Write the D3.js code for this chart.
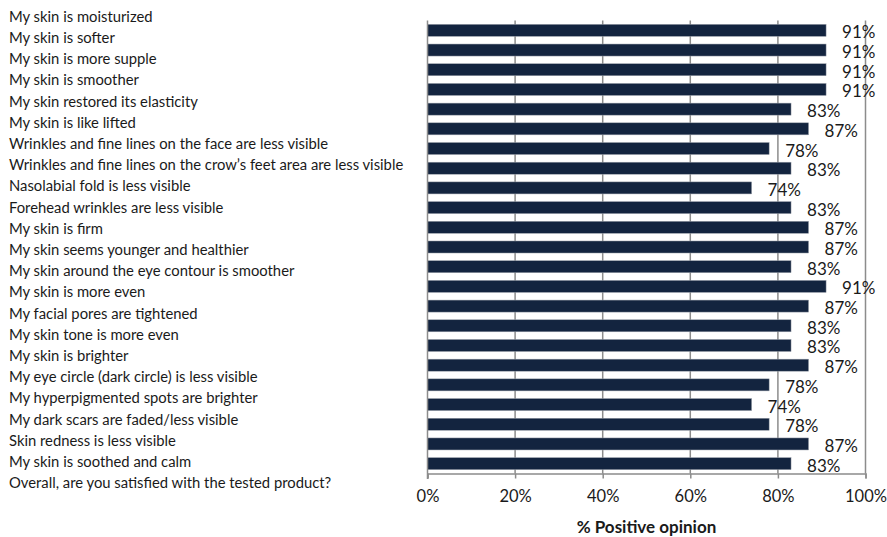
<!DOCTYPE html>
<html><head><meta charset="utf-8">
<script src="https://cdn.jsdelivr.net/npm/d3@7"></script>
<style>body{margin:0;background:#fff;} svg{display:block;} text{font-family:Lato,"Open Sans",sans-serif;fill:#1a1a1a;}</style>
</head><body>
<svg id="chart" width="887" height="537"></svg>
<script>
const categories = [
"My skin is moisturized","My skin is softer","My skin is more supple","My skin is smoother",
"My skin restored its elasticity","My skin is like lifted","Wrinkles and fine lines on the face are less visible",
"Wrinkles and fine lines on the crow\u2019s feet area are less visible","Nasolabial fold is less visible",
"Forehead wrinkles are less visible","My skin is firm","My skin seems younger and healthier",
"My skin around the eye contour is smoother","My skin is more even","My facial pores are tightened",
"My skin tone is more even","My skin is brighter","My eye circle (dark circle) is less visible",
"My hyperpigmented spots are brighter","My dark scars are faded/less visible","Skin redness is less visible",
"My skin is soothed and calm","Overall, are you satisfied with the tested product?"
];
const values = [91,91,91,91,83,87,78,83,74,83,87,87,83,91,87,83,83,87,78,74,78,87,83];
const xTicks = [0,20,40,60,80,100];
const xTitle = "% Positive opinion";

const svg = d3.select("#chart");
const x = d3.scaleLinear().domain([0,100]).range([427.5,865.5]);
const y = d3.scaleBand().domain(d3.range(values.length)).range([20.5,473.5]).paddingInner(0.39).paddingOuter(0.195);
const yl = d3.scalePoint().domain(categories).range([21.7,488.3]);

// gridlines
svg.append("g").selectAll("line").data(xTicks.slice(1)).join("line")
  .attr("x1",d=>x(d)).attr("x2",d=>x(d)).attr("y1",20.5).attr("y2",473.5)
  .attr("stroke","#8c8c8c").attr("stroke-width",1.5);

// bars
svg.append("g").selectAll("rect").data(values).join("rect")
  .attr("x",x(0)).attr("y",(d,i)=>y(i)).attr("width",d=>x(d)-x(0)).attr("height",y.bandwidth())
  .attr("fill","#13243f").attr("stroke","#9aa0aa").attr("stroke-width",0.5);

// axes
const xAxis = d3.axisBottom(x).tickValues(xTicks).tickFormat(d=>d+"%").tickSize(5).tickPadding(12);
const gx = svg.append("g").attr("transform","translate(0,473.5)").call(xAxis);
gx.select(".domain").attr("stroke","#8c8c8c").attr("stroke-width",1.5);
gx.selectAll(".tick line").attr("stroke","#8c8c8c").attr("stroke-width",1.5);
gx.selectAll(".tick text").style("font-size","16.5px").attr("fill","#1a1a1a").style("font-family","Lato,sans-serif");
svg.append("line").attr("x1",x(0)).attr("x2",x(0)).attr("y1",20.5).attr("y2",479)
  .attr("stroke","#8c8c8c").attr("stroke-width",1.5);

// value labels
svg.append("g").selectAll("text").data(values).join("text")
  .attr("x",d=>x(d)+16).attr("y",(d,i)=>y(i)+y.bandwidth()/2+8)
  .style("font-size","17px").text(d=>d+"%");

// category labels
svg.append("g").selectAll("text").data(categories).join("text")
  .attr("x",9).attr("y",d=>yl(d)).style("font-size","14.8px").text(d=>d);

// axis title
svg.append("text").attr("x",(x(0)+x(100))/2).attr("y",533).attr("text-anchor","middle")
  .style("font-size","17px").style("font-weight","bold").text(xTitle);
</script>
</body></html>
